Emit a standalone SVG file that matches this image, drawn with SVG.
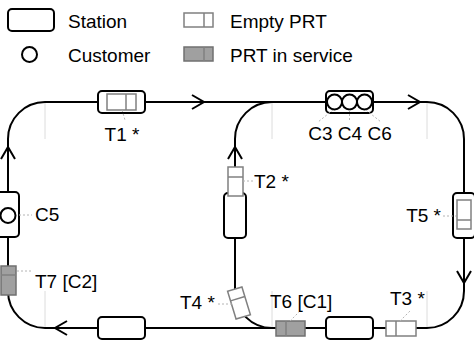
<svg xmlns="http://www.w3.org/2000/svg" width="474" height="341" viewBox="0 0 474 341">
<style>
.trk{fill:none;stroke:#000;stroke-width:2}
.arr{fill:none;stroke:#000;stroke-width:2;stroke-linejoin:miter}
.guide{stroke:#dcdcdc;stroke-width:1}
.lead{stroke:#b4b4b4;stroke-width:1;stroke-dasharray:2 2}
.st{fill:#fff;stroke:#000;stroke-width:2}
.ve{fill:#fff;stroke:#808080;stroke-width:1.5}
.vs{fill:#a0a0a0;stroke:#707070;stroke-width:1.5}
.dv{stroke:#808080;stroke-width:1.5}
.cu{fill:#fff;stroke:#000;stroke-width:2}
text{font-family:"Liberation Sans",Arial,sans-serif;font-size:19px;fill:#000}
</style>
<rect width="474" height="341" fill="#fff"/>
<g id="legend">
<rect class="st" x="8" y="9" width="46" height="22" rx="4"/>
<text x="68" y="28">Station</text>
<circle class="cu" cx="29.5" cy="54.5" r="7.5"/>
<text x="68" y="62">Customer</text>
<rect class="ve" x="184" y="13" width="29" height="14"/><line class="dv" x1="204" y1="13" x2="204" y2="27"/>
<text x="230" y="28">Empty PRT</text>
<rect class="vs" x="184" y="47" width="29" height="14"/><line class="dv" x1="204" y1="47" x2="204" y2="61"/>
<text x="230" y="62">PRT in service</text>
</g>
<g id="connectors">
<g class="guide">
<line x1="45" y1="102" x2="45" y2="139"/>
<line x1="272" y1="102" x2="272" y2="139"/>
<line x1="427" y1="102" x2="427" y2="139"/>
<line x1="427" y1="291" x2="427" y2="328"/>
<line x1="272" y1="291" x2="272" y2="328"/>
<line x1="45" y1="291" x2="45" y2="328"/>
</g>
<path class="trk" d="M45,102 H427 A37,37 0 0 1 464,139 V291 A37,37 0 0 1 427,328 H45 A37,37 0 0 1 8,291 V139 A37,37 0 0 1 45,102 Z"/>
<path class="trk" d="M272,328 A37,37 0 0 1 235,291 V139 A37,37 0 0 1 272,102"/>
<path class="arr" d="M192,95 L204,102 L192,109"/>
<path class="arr" d="M408,95 L420,102 L408,109"/>
<path class="arr" d="M457,271 L464,283 L471,271"/>
<path class="arr" d="M67,321 L55,328 L67,335"/>
<path class="arr" d="M1,159 L8,147 L15,159"/>
<path class="arr" d="M228,159 L235,147 L242,159"/>
</g>
<g id="stations">
<rect class="st" x="98" y="91" width="47" height="22" rx="4"/>
<rect class="st" x="326" y="91" width="47" height="22" rx="4"/>
<rect class="st" x="326" y="317" width="47" height="22" rx="4"/>
<rect class="st" x="98" y="317" width="47" height="22" rx="4"/>
<rect class="st" x="224" y="193" width="22" height="45" rx="4"/>
<rect class="st" x="-3" y="192" width="22" height="45" rx="4"/>
<rect class="st" x="453" y="193" width="22" height="45" rx="4"/>
</g>
<g id="C3C4C6">
<circle class="cu" cx="334.5" cy="102" r="7.5"/>
<circle class="cu" cx="349.5" cy="102" r="7.5"/>
<circle class="cu" cx="364.5" cy="102" r="7.5"/>
<line class="lead" x1="333" y1="110" x2="318" y2="122"/>
<line class="lead" x1="349.5" y1="110" x2="349.5" y2="122"/>
<line class="lead" x1="366" y1="110" x2="381" y2="122"/>
<text x="350" y="140" text-anchor="middle">C3 C4 C6</text>
</g>
<g id="C5">
<circle class="cu" cx="8" cy="215.5" r="7.5"/>
<line class="lead" x1="19" y1="215" x2="32" y2="215"/>
<text x="35" y="221">C5</text>
</g>
<g id="T1">
<rect class="ve" x="107" y="94" width="29" height="16"/><line class="dv" x1="126" y1="94" x2="126" y2="110"/>
<line class="lead" x1="122" y1="110" x2="125" y2="120"/>
<text x="122" y="141" text-anchor="middle">T1 *</text>
</g>
<g id="T2">
<rect class="ve" x="228" y="167" width="15" height="29"/><line class="dv" x1="228" y1="177" x2="243" y2="177"/>
<line class="lead" x1="243" y1="181" x2="253" y2="181"/>
<text x="254" y="188">T2 *</text>
</g>
<g id="T5">
<rect class="ve" x="457" y="200" width="14" height="29"/><line class="dv" x1="457" y1="220" x2="471" y2="220"/>
<line class="lead" x1="443" y1="216" x2="456" y2="216"/>
<text x="441" y="222" text-anchor="end">T5 *</text>
</g>
<g id="T4">
<g transform="translate(239,303) rotate(-17)">
<rect class="ve" x="-7.5" y="-14.5" width="15" height="29"/><line class="dv" x1="-7.5" y1="-4.5" x2="7.5" y2="-4.5"/>
</g>
<line class="lead" x1="218" y1="304" x2="232" y2="304"/>
<text x="180" y="309">T4 *</text>
</g>
<g id="T6">
<rect class="vs" x="276" y="321" width="29" height="15"/><line class="dv" x1="286" y1="321" x2="286" y2="336"/>
<line class="lead" x1="290" y1="321" x2="300" y2="311"/>
<text x="270" y="308">T6 [C1]</text>
</g>
<g id="T3">
<rect class="ve" x="386" y="321" width="30" height="15"/><line class="dv" x1="396" y1="321" x2="396" y2="336"/>
<line class="lead" x1="400" y1="321" x2="410" y2="311"/>
<text x="390" y="305">T3 *</text>
</g>
<g id="T7">
<rect class="vs" x="1" y="266" width="15" height="29"/><line class="dv" x1="1" y1="275" x2="16" y2="275"/>
<line class="lead" x1="17" y1="271" x2="32" y2="271"/>
<text x="35" y="288">T7 [C2]</text>
</g>
</svg>
